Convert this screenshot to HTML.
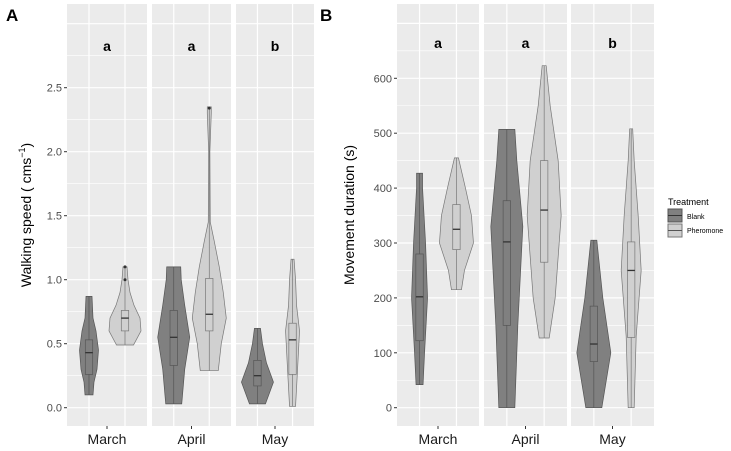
<!DOCTYPE html>
<html><head><meta charset="utf-8"><style>
body{margin:0;background:#fff;}
svg{display:block;font-family:"Liberation Sans",sans-serif;}
</style></head><body>
<svg id="c" width="731" height="451"></svg>
<script>
const months=["March","April","May"];
const treatments=["Blank","Pheromone"];
// Panel A: walking speed violins [value, half-width px]
const speedBlankViolins=[
 [[0.1,4],[0.2,5],[0.3,8],[0.45,9.5],[0.6,7],[0.7,4],[0.87,3]],
 [[0.03,8],[0.3,11],[0.55,16],[0.8,11],[1.0,7.5],[1.1,7]],
 [[0.03,8],[0.2,16],[0.35,9],[0.5,5],[0.62,3]]];
const speedPherViolins=[
 [[0.49,8.5],[0.6,16],[0.7,15],[0.8,9],[0.9,5],[1.0,3],[1.1,2]],
 [[0.29,9],[0.5,12],[0.7,17],[0.9,14],[1.1,10],[1.3,5],[1.45,1],[2.0,0.6],[2.3,2],[2.35,2]],
 [[0.01,3],[0.3,5],[0.6,7],[0.8,4],[1.0,3],[1.16,1.5]]];
const speedBlankBox=[[0.26,0.43,0.53],[0.33,0.55,0.76],[0.17,0.25,0.37]];
const speedPherBox=[[0.6,0.7,0.76],[0.6,0.73,1.01],[0.26,0.53,0.66]];
const speedOutliers=[[0,1,1.0],[0,1,1.1],[1,1,2.34]];
const speedTicks=[0,0.5,1.0,1.5,2.0,2.5];
const speedLetters=["a","a","b"];
// Panel B: movement duration
const durBlankViolins=[
 [[42,3.5],[100,5],[200,8],[300,6],[400,3],[427,3]],
 [[0,8],[150,11],[330,16],[450,10],[507,8]],
 [[0,8],[100,17],[200,9],[305,3]]];
const durPherViolins=[
 [[215,5],[250,8],[300,17],[350,15],[400,9],[455,2]],
 [[127,5],[200,11],[350,17],[450,14],[550,6],[623,2]],
 [[0,3],[130,5],[250,10],[350,7],[450,3],[508,1.5]]];
const durBlankBox=[[122,202,280],[150,302,377],[84,116,185]];
const durPherBox=[[288,325,370],[265,360,450],[128,250,302]];
const durTicks=[0,100,200,300,400,500,600];
const durLetters=["a","a","b"];

const svg=document.getElementById('c');
const NS="http://www.w3.org/2000/svg";
function el(t,a,p){const e=document.createElementNS(NS,t);for(const k in a)e.setAttribute(k,a[k]);(p||svg).appendChild(e);return e;}

function panel(cfg){
 const g=el('g',{});
 
 
 const y=v=>cfg.y0+(v-cfg.vmin)*(cfg.y1-cfg.y0)/(cfg.vmax-cfg.vmin);
 cfg.facets.forEach((f,i)=>{
  const fg=el('g',{},g);
  
  
  el('rect',{x:f[0],y:4,width:f[1]-f[0],height:422,fill:'#ebebeb'},fg);
  const step=cfg.ticks[1]-cfg.ticks[0];
  for(let v=cfg.ticks[0]-step/2;v<=cfg.vtop;v+=step/2){
   const yy=y(v); if(yy<4||yy>426)continue;
   const major=Math.abs(((v-cfg.ticks[0])/step)%1)<1e-6;
   el('line',{x1:f[0],x2:f[1],y1:yy,y2:yy,stroke:'#fff','stroke-width':major?1.2:0.6},fg);
  }
  const w=f[1]-f[0], cx=[f[0]+w*0.275,f[0]+w*0.725];
  cx.forEach(x=>el('line',{x1:x,x2:x,y1:4,y2:426,stroke:'#fff','stroke-width':1.2},fg));
  [[cfg.bv,cfg.bb,'#808080','#555'],[cfg.pv,cfg.pb,'#d0d0d0','#777']].forEach((s,k)=>{
   const v=s[0][i],x=cx[k];
   let d='M'+(x-v[0][1])+','+y(v[0][0]);
   v.forEach(p=>d+=' L'+(x-p[1])+','+y(p[0]));
   for(let j=v.length-1;j>=0;j--)d+=' L'+(x+v[j][1])+','+y(v[j][0]);
   d+='Z';
   const vp=el('path',{d:d,fill:s[2],stroke:s[3],'stroke-width':0.7},fg);
   
   
   el('line',{x1:x,x2:x,y1:y(v[0][0]),y2:y(v[v.length-1][0]),stroke:s[3],'stroke-width':0.7},fg);
   const b=s[1][i];
   const br=el('rect',{x:x-3.7,y:y(b[2]),width:7.4,height:y(b[0])-y(b[2]),fill:s[2],stroke:s[3],'stroke-width':0.7},fg);
   
   
   el('line',{x1:x-3.7,x2:x+3.7,y1:y(b[1]),y2:y(b[1]),stroke:'#333','stroke-width':1.3},fg);
  });
  (cfg.out||[]).filter(o=>o[0]===i).forEach(o=>{
   const c=el('circle',{cx:cx[o[1]],cy:y(o[2]),r:1.5,fill:'#333'},fg);
   
   
  });
  const lt=el('text',{x:(f[0]+f[1])/2,y:cfg.ly,'text-anchor':'middle','font-weight':'bold','font-size':14,fill:'#000'},fg);
  lt.textContent=cfg.letters[i];
  
  
  const xl=el('text',{x:(f[0]+f[1])/2,y:444,'text-anchor':'middle','font-size':14,fill:'#1a1a1a'},fg);
  xl.textContent=months[i];
  
  
  el('line',{x1:(f[0]+f[1])/2,x2:(f[0]+f[1])/2,y1:426,y2:429,stroke:'#333'},fg);
 });
 cfg.ticks.forEach(t=>{
  const tl=el('text',{x:cfg.facets[0][0]-5,y:y(t)+4,'text-anchor':'end','font-size':11,fill:'#4d4d4d'},g);
  tl.textContent=cfg.fmt(t);
  
  
  el('line',{x1:cfg.facets[0][0]-3,x2:cfg.facets[0][0],y1:y(t),y2:y(t),stroke:'#333'},g);
 });
}
panel({name:'panel-a-walking-speed',facets:[[67,147],[152,231],[236,314]],vmin:0,vmax:2.5,vtop:3.1,y0:407.7,y1:87.7,
 ticks:speedTicks,fmt:t=>t.toFixed(1),bv:speedBlankViolins,pv:speedPherViolins,bb:speedBlankBox,pb:speedPherBox,out:speedOutliers,letters:speedLetters,ly:51});
panel({name:'panel-b-movement-duration',facets:[[397,479],[484,567],[571,654]],vmin:0,vmax:600,vtop:760,y0:407.7,y1:78.3,
 ticks:durTicks,fmt:t=>String(t),bv:durBlankViolins,pv:durPherViolins,bb:durBlankBox,pb:durPherBox,out:[],letters:durLetters,ly:48});
</script>
<svg style="position:absolute;left:0;top:0" width="731" height="451">
<text x="6" y="21" font-weight="bold" font-size="17" fill="#000">A</text>
<text x="320" y="21" font-weight="bold" font-size="17" fill="#000">B</text>
<text transform="translate(31,215) rotate(-90)" text-anchor="middle" font-size="14" fill="#000">Walking speed ( cms<tspan dy="-6" font-size="9">−1</tspan><tspan dy="6">)</tspan></text>
<text transform="translate(354,215) rotate(-90)" text-anchor="middle" font-size="14" fill="#000">Movement duration (s)</text>
<g>
<text x="668" y="205" font-size="9" fill="#000">Treatment</text>
<rect x="668" y="209" width="14" height="13" fill="#808080" stroke="#555"/>
<line x1="668" x2="682" y1="215.5" y2="215.5" stroke="#333"/>
<text x="687" y="219" font-size="7" fill="#000">Blank</text>
<rect x="668" y="224" width="14" height="13" fill="#d0d0d0" stroke="#777"/>
<line x1="668" x2="682" y1="230.5" y2="230.5" stroke="#555"/>
<text x="687" y="233" font-size="7" fill="#000">Pheromone</text>
</g>
</svg>
</body></html>
